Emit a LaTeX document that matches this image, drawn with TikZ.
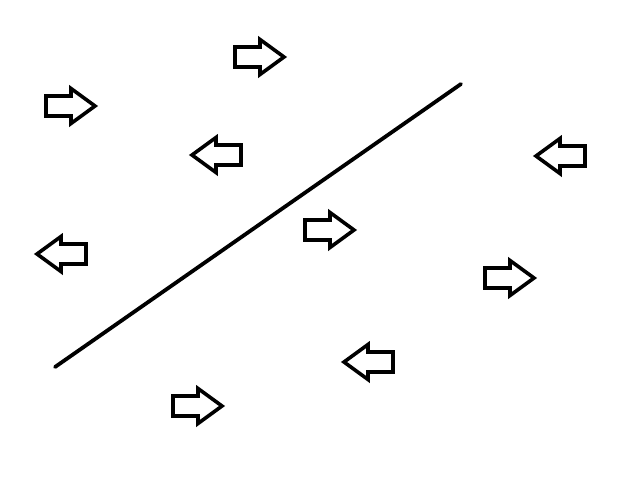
\documentclass[tikz,border=0pt]{standalone}
\begin{document}
\begin{tikzpicture}[x=1pt,y=-1pt,
  blockline/.style={line width=3.6pt,line join=miter,draw=black,fill=white},
  rarrow/.pic={\path[blockline] (-25,-10) -- (0,-10) -- (0,-17.5) -- (24,0) -- (0,17.5) -- (0,10) -- (-25,10) -- cycle;},
  larrow/.pic={\path[blockline] (25,-10) -- (0,-10) -- (0,-17.5) -- (-24,0) -- (0,17.5) -- (0,10) -- (25,10) -- cycle;}]
\useasboundingbox[fill=white] (0,0) rectangle (640,480);
\coordinate (l1) at (55,367);
\coordinate (l2) at (461,84);
\draw[line width=3.8pt,line cap=round] (l1) -- (l2);
\pic (a1) at (260,57) {rarrow};
\pic (a2) at (71,106) {rarrow};
\pic (a3) at (216,155) {larrow};
\pic (a4) at (560,156) {larrow};
\pic (a5) at (61,254) {larrow};
\pic (a6) at (330,230) {rarrow};
\pic (a7) at (510,278) {rarrow};
\pic (a8) at (368,362) {larrow};
\pic (a9) at (198,406) {rarrow};
\end{tikzpicture}
\end{document}
